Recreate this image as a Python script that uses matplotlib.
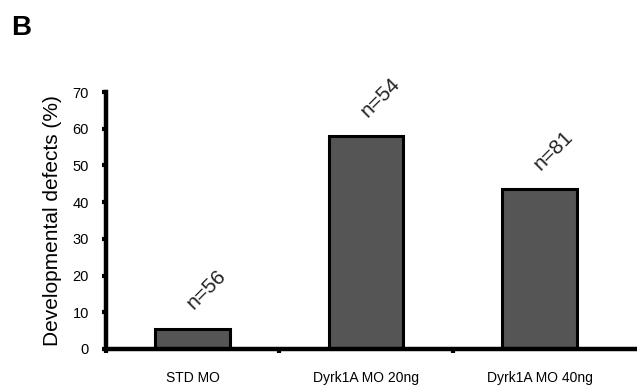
import matplotlib.pyplot as plt

groups = ["STD MO", "Dyrk1A MO 20ng", "Dyrk1A MO 40ng"]
defects = [5.5, 58, 43.5]
n_labels = ["n=56", "n=54", "n=81"]
yticks = [0, 10, 20, 30, 40, 50, 60, 70]

plt.rcParams["font.family"] = ["Liberation Sans", "DejaVu Sans"]

fig = plt.figure(figsize=(6.37, 3.92), dpi=100)
ax = fig.add_axes([0.166, 0.11, 0.834, 0.655])

x = range(len(groups))
ax.bar(x, defects, width=0.43, color="#555555", edgecolor="black", linewidth=2.2)

for xi, v, lab in zip(x, defects, n_labels):
    ax.annotate(lab, (xi, v), xytext=(10, 28), textcoords="offset points",
                rotation=45, ha="center", va="center", fontsize=15, color="#222222")

ax.set_xlim(-0.5, 2.56)
ax.set_ylim(0, 70)
ax.set_yticks(yticks)
ax.set_xticks(list(x))
ax.set_xticklabels(groups, fontsize=10)
ax.set_xticks([-0.5, 0.5, 1.5], minor=True)
ax.tick_params(axis="x", which="major", length=0, pad=16)
ax.tick_params(axis="x", which="minor", length=3, width=3, direction="out")
ax.tick_params(axis="y", length=3, width=3, labelsize=10.5, pad=9)

for side in ["top", "right"]:
    ax.spines[side].set_visible(False)
for side in ["left", "bottom"]:
    ax.spines[side].set_linewidth(3.2)

ax.set_ylabel("Developmental defects (%)", fontsize=15, labelpad=8)

fig.text(0.018, 0.91, "B", fontsize=20, fontweight="bold")

fig.savefig("out.png", dpi=100)
